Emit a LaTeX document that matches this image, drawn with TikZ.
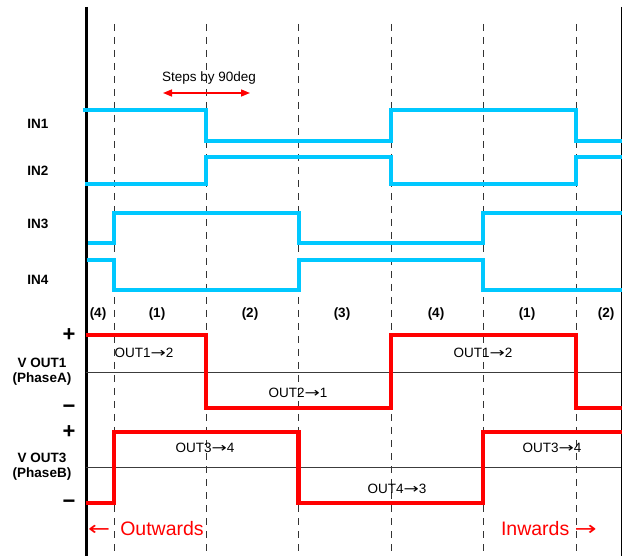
\documentclass[tikz,border=0pt]{standalone}
\usepackage{fontspec}
\setmainfont{Liberation Sans}
\newfontfamily\arrowfont{DejaVu Sans}
\usetikzlibrary{arrows.meta}
\definecolor{sig}{RGB}{0,200,255}
\definecolor{vred}{RGB}{255,0,0}
\definecolor{zgrey}{RGB}{60,60,60}
\newcommand\myrarr{\scalebox{1.35}[1]{\arrowfont →}}
\newcommand\mylarr{\scalebox{1.35}[1]{\arrowfont ←}}
\begin{document}
\begin{tikzpicture}[x=1pt,y=-1pt,
  inwave/.style={draw=sig,line width=4pt,line join=miter},
  outwave/.style={draw=vred,line width=4.5pt,line join=miter},
  grid/.style={draw=black!80,line width=0.9pt,dash pattern=on 7pt off 6pt},
  zero/.style={draw=zgrey,line width=0.8pt},
  lbl/.style={font=\fontsize{13.5}{15}\selectfont\bfseries,align=center,inner sep=0pt},
  plain/.style={font=\fontsize{13.5}{15}\selectfont,inner sep=0pt},
  sign/.style={font=\fontsize{22}{24}\selectfont\bfseries,inner sep=0pt},
  dirtext/.style={font=\fontsize{19.5}{22}\selectfont,text=vred,inner sep=0pt}]
\useasboundingbox (0,0) rectangle (622,556);
% dashed grid
\foreach \x in {114,206,298.5,391,483,576} \draw[grid] (\x,24) -- (\x,556);
% axis and border
\draw[line width=3pt] (86,7) -- (86,556);
\draw[line width=1pt] (621,7) -- (621,556);
% zero lines
\draw[zero] (86,372) -- (621,372);
\draw[zero] (86,467) -- (621,467);
% input waveforms
\draw[inwave] (83,110) -- (206,110) -- (206,141) -- (391,141) -- (391,110) -- (576,110) -- (576,141) -- (622,141);
\draw[inwave] (85,184) -- (206,184) -- (206,157) -- (391,157) -- (391,184) -- (576,184) -- (576,157) -- (622,157);
\draw[inwave] (88,243) -- (114,243) -- (114,213) -- (298.5,213) -- (298.5,243) -- (483,243) -- (483,213) -- (622,213);
\draw[inwave] (87,260) -- (114,260) -- (114,290) -- (298.5,290) -- (298.5,260) -- (483,260) -- (483,290) -- (622,290);
% output waveforms
\draw[outwave] (86,335) -- (206,335) -- (206,408) -- (391,408) -- (391,335) -- (576,335) -- (576,408) -- (622,408);
\draw[outwave] (86,503) -- (114,503) -- (114,432) -- (298.5,432) -- (298.5,503) -- (483,503) -- (483,432) -- (622,432);
% steps arrow
\node[plain] (steps) at (209,78) {Steps by 90deg};
\coordinate (sa) at (163,93);
\coordinate (sb) at (250,93);
\draw[vred,line width=1.5pt,{Triangle[length=9pt,width=7pt]}-{Triangle[length=9pt,width=7pt]}] (sa) -- (sb);
% input labels
\node[lbl] (in1) at (38,124) {IN1};
\node[lbl] (in2) at (38,171) {IN2};
\node[lbl] (in3) at (38,224) {IN3};
\node[lbl] (in4) at (38,280) {IN4};
% period labels
\node[lbl] (p1) at (98,314) {(4)};
\node[lbl] (p2) at (157,314) {(1)};
\node[lbl] (p3) at (250,314) {(2)};
\node[lbl] (p4) at (342,314) {(3)};
\node[lbl] (p5) at (436,314) {(4)};
\node[lbl] (p6) at (527,314) {(1)};
\node[lbl] (p7) at (606,314) {(2)};
% output labels
\node[lbl] (vo1) at (42,372) {V OUT1\\(PhaseA)};
\node[lbl] (vo3) at (42,467) {V OUT3\\(PhaseB)};
\node[sign] (s1) at (69,335) {+};
\node[sign] (s2) at (69,409) {−};
\node[sign] (s3) at (69,432) {+};
\node[sign] (s4) at (69,504) {−};
% state labels
\node[plain] (o12a) at (144,353) {OUT1\myrarr2};
\node[plain] (o21) at (298,393) {OUT2\myrarr1};
\node[plain] (o12b) at (483,353) {OUT1\myrarr2};
\node[plain] (o34a) at (205,448) {OUT3\myrarr4};
\node[plain] (o43) at (397,489) {OUT4\myrarr3};
\node[plain] (o34b) at (552,448) {OUT3\myrarr4};
% direction labels
\node[dirtext,anchor=west] (outw) at (88,529) {\mylarr\hspace{10pt}Outwards};
\node[dirtext,anchor=east] (inw) at (597,529) {Inwards \myrarr};
\end{tikzpicture}
\end{document}
